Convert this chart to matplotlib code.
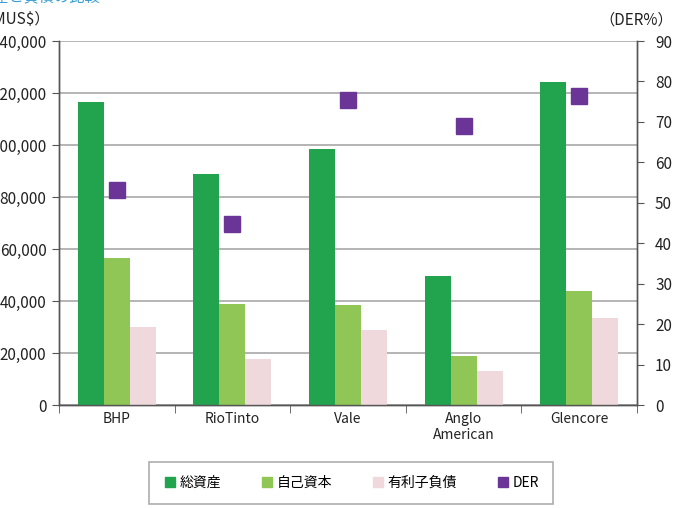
import matplotlib.pyplot as plt
import numpy as np
from matplotlib.lines import Line2D

plt.rcParams['font.family'] = ['Noto Sans CJK JP', 'DejaVu Sans']

# data (MUS$, DER %)
companies = ['BHP', 'RioTinto', 'Vale', 'Anglo\nAmerican', 'Glencore']
total_assets = [116500, 88800, 98500, 49600, 124200]
equity = [56500, 38800, 38500, 18800, 43800]
debt = [30000, 17700, 28800, 13000, 33500]
der = [53.2, 44.8, 75.4, 69.0, 76.4]

c_total = '#22a44f'
c_equity = '#8fc655'
c_debt = '#efd9dc'
c_der = '#6a3597'

fig = plt.figure(figsize=(6.77, 5.08), dpi=100)
ax = fig.add_axes([59/677, 1-405/508, (637-59)/677, (405-41)/508])
ax2 = ax.twinx()

x = np.arange(len(companies))
w = 0.225
ax.bar(x - w, total_assets, w, color=c_total, zorder=3)
ax.bar(x, equity, w, color=c_equity, zorder=3)
ax.bar(x + w, debt, w, color=c_debt, zorder=3)
ax2.plot(x, der, 's', color=c_der, markersize=11, zorder=4)

ax.set_xlim(-0.5, len(companies) - 0.5)
ax.set_ylim(0, 140000)
ax.set_yticks(range(0, 140001, 20000))
ax.set_yticklabels([f'{v:,}' for v in range(0, 140001, 20000)])
ax2.set_ylim(0, 90)
ax2.set_yticks(range(0, 91, 10))

ax.set_xticks(x)
ax.set_xticklabels(companies)
ax.set_xticks(np.arange(-0.5, len(companies), 1), minor=True)
ax.tick_params(axis='x', which='major', length=0, pad=5, labelsize=10)
ax.tick_params(axis='x', which='minor', length=6, direction='out', color='#555555')
ax.tick_params(axis='y', length=5, color='#555555', labelsize=11, pad=4)
ax2.tick_params(axis='y', length=5, color='#555555', labelsize=11, pad=8)
for a in (ax, ax2):
    a.tick_params(labelcolor='#222222')

ax.grid(axis='y', color='#a8a8a8', linewidth=1.2, zorder=0)
ax.set_axisbelow(True)
for a in (ax, ax2):
    a.spines['top'].set_visible(False)
    for s in ('left', 'right', 'bottom'):
        a.spines[s].set_color('#555555')
        a.spines[s].set_linewidth(1.0)

# header texts (clipped by the figure edge, as in the source)
fig.text(100/677, 1 + 3/508, '主要資源会社の資産と負債の比較', ha='right', va='center',
         fontsize=11, color='#3a9fd3')
fig.text(50/677, 1-20/508, '（MUS$）', ha='right', va='center', fontsize=11, color='#222222')
fig.text(0.995, 1-20/508, '（DER%）', ha='right', va='center', fontsize=11, color='#222222')

handles = [
    Line2D([], [], marker='s', linestyle='', color=c_total, markersize=6.5),
    Line2D([], [], marker='s', linestyle='', color=c_equity, markersize=6.5),
    Line2D([], [], marker='s', linestyle='', color=c_debt, markersize=6.5),
    Line2D([], [], marker='s', linestyle='', color=c_der, markersize=6.5),
]
leg = fig.legend(handles, ['総資産', '自己資本', '有利子負債', 'DER'], ncol=4,
                 loc='center', bbox_to_anchor=(351/677, 1-483/508),
                 frameon=True, fancybox=False, edgecolor='#999999',
                 fontsize=10, handletextpad=0.2, columnspacing=2.8,
                 borderpad=1.0, handlelength=1.0, borderaxespad=0)
leg.get_frame().set_linewidth(1.2)

fig.savefig('out.png', dpi=100)
